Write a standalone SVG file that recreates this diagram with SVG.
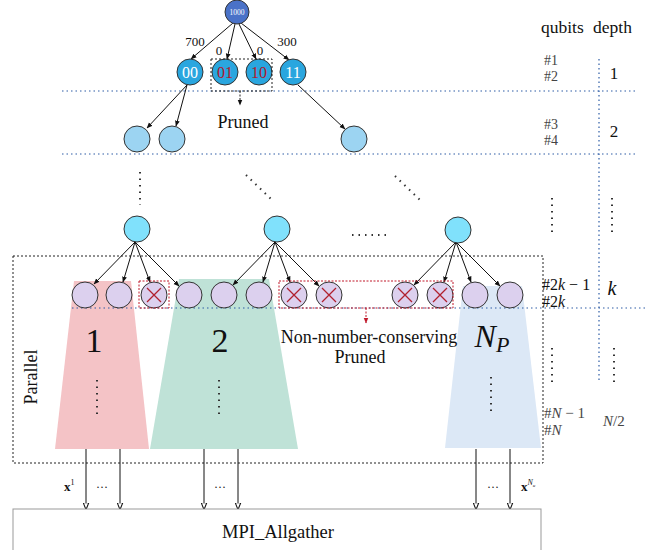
<svg xmlns="http://www.w3.org/2000/svg" width="660" height="550" viewBox="0 0 660 550">
<defs>
<marker id="ah" viewBox="0 0 10 10" refX="9" refY="5" markerWidth="6" markerHeight="6" markerUnits="userSpaceOnUse" orient="auto"><path d="M0,1 L10,5 L0,9 Z" fill="#111"/></marker>
<marker id="ahr" viewBox="0 0 10 10" refX="9" refY="5" markerWidth="6" markerHeight="6" markerUnits="userSpaceOnUse" orient="auto"><path d="M0,1 L10,5 L0,9 Z" fill="#C0182A"/></marker>
<marker id="ahb" viewBox="0 0 10 10" refX="9" refY="5" markerWidth="7" markerHeight="7" markerUnits="userSpaceOnUse" orient="auto"><path d="M0,1 L10,5 L0,9 Z" fill="#fff" stroke="#111" stroke-width="1.5"/></marker>
</defs>
<style>
text{font-family:"Liberation Serif","DejaVu Serif",serif;fill:#111}
.n{stroke:#333;stroke-width:1}
.root{fill:#4A72C8}
.l1{fill:#2AA6DF}
.l2{fill:#9CD4F2}
.l3{fill:#80E1FC}
.lf{fill:#DCD0EE}
.x{stroke:#B0202E;stroke-width:1.3}
.a{stroke:#111;stroke-width:1;fill:none;marker-end:url(#ah)}
.ab{stroke:#111;stroke-width:1;fill:none;marker-end:url(#ahb)}
.bl{stroke:#2E5DA6;stroke-width:1.2;stroke-dasharray:1.5 3;fill:none}
.dk{stroke:#333;stroke-width:2;stroke-dasharray:1.5 5;fill:none}
.bx{stroke:#222;stroke-width:1;stroke-dasharray:2 2;fill:none}
.rb{stroke:#C0182A;stroke-width:1;stroke-dasharray:2 1.5;fill:none}
.lbl{font-size:13px}
.sm{font-size:14px;fill:#444}
</style>

<!-- trapezoids -->
<g id="proc1"><polygon points="74,281 131,281 149,449 55,449" fill="#F4C3C6"/><text x="94" y="352" font-size="34" text-anchor="middle">1</text><line x1="97" y1="380" x2="97" y2="414" class="dk" stroke-width="1.8"/></g>
<g id="proc2"><polygon points="179,279 269,279 298,449 150,449" fill="#BFE2D7"/><text x="220" y="352" font-size="34" text-anchor="middle">2</text><line x1="219" y1="380" x2="219" y2="414" class="dk" stroke-width="1.8"/></g>
<g id="procNP"><polygon points="463,286 522,286 541,448 445,448" fill="#DCE8F6"/><text x="492" y="347" font-size="32" text-anchor="middle"><tspan font-style="italic">N</tspan><tspan font-size="22" font-style="italic" dy="5">P</tspan></text><line x1="491" y1="377" x2="491" y2="411" class="dk" stroke-width="1.8"/></g>

<!-- level separators -->
<g id="separators">
<line x1="62" y1="91" x2="637" y2="91" class="bl"/>
<line x1="62" y1="154" x2="637" y2="154" class="bl"/>
<line x1="72" y1="308" x2="645" y2="308" class="bl"/>
<line x1="599" y1="59" x2="599" y2="380" class="bl"/>
</g>

<!-- parallel box -->
<g id="parallel">
<rect x="13" y="256" width="530" height="207" class="bx"/>
<text transform="translate(37,377) rotate(-90)" font-size="18" text-anchor="middle">Parallel</text>
</g>

<!-- connectors -->
<g id="connectors">
<line x1="233" y1="23" x2="191" y2="59" class="a"/>
<line x1="235" y1="24" x2="227" y2="59" class="a"/>
<line x1="239" y1="24" x2="256" y2="59" class="a"/>
<line x1="241" y1="23" x2="289" y2="60" class="a"/>
<line x1="187" y1="85" x2="147" y2="128" class="a"/>
<line x1="187" y1="85" x2="176" y2="126" class="a"/>
<line x1="298" y1="85" x2="345" y2="129" class="a"/>
<line x1="135" y1="242" x2="94" y2="284" class="a"/>
<line x1="135" y1="242" x2="123" y2="282" class="a"/>
<line x1="135" y1="242" x2="150" y2="282" class="a"/>
<line x1="135" y1="242" x2="179" y2="286" class="a"/>
<line x1="275" y1="242" x2="233" y2="285" class="a"/>
<line x1="275" y1="242" x2="263" y2="282" class="a"/>
<line x1="275" y1="242" x2="290" y2="282" class="a"/>
<line x1="275" y1="242" x2="319" y2="286" class="a"/>
<line x1="456" y1="242" x2="414" y2="285" class="a"/>
<line x1="456" y1="242" x2="444" y2="282" class="a"/>
<line x1="456" y1="242" x2="471" y2="282" class="a"/>
<line x1="456" y1="242" x2="500" y2="286" class="a"/>
<line x1="86" y1="449" x2="86" y2="509" class="ab"/>
<line x1="120" y1="449" x2="120" y2="509" class="ab"/>
<line x1="204" y1="449" x2="204" y2="509" class="ab"/>
<line x1="238" y1="449" x2="238" y2="509" class="ab"/>
<line x1="476" y1="449" x2="476" y2="509" class="ab"/>
<line x1="510" y1="449" x2="510" y2="509" class="ab"/>
</g>

<!-- edge labels -->
<g id="edge-labels" class="lbl">
<text x="195" y="46" text-anchor="middle">700</text>
<text x="219" y="55" text-anchor="middle">0</text>
<text x="260" y="55" text-anchor="middle">0</text>
<text x="287" y="46" text-anchor="middle">300</text>
</g>

<!-- nodes -->
<g id="root"><circle cx="237" cy="12" r="12" class="n root"/><text x="237" y="15" font-size="7.5" style="fill:#fff" text-anchor="middle">1000</text></g>
<g id="n00"><circle cx="190" cy="72" r="13" class="n l1"/><text x="190" y="78" font-size="16" style="fill:#fff" text-anchor="middle">00</text></g>
<g id="n01"><circle cx="225" cy="72" r="13" class="n l1"/><text x="225" y="78" font-size="16" style="fill:#B0182E" text-anchor="middle">01</text></g>
<g id="n10"><circle cx="259" cy="72" r="13" class="n l1"/><text x="259" y="78" font-size="16" style="fill:#B0182E" text-anchor="middle">10</text></g>
<g id="n11"><circle cx="293" cy="72" r="13" class="n l1"/><text x="293" y="78" font-size="16" style="fill:#fff" text-anchor="middle">11</text></g>
<g id="pruned1">
<rect x="211" y="59" width="61" height="32" class="bx"/>
<line x1="240" y1="91" x2="240" y2="105" stroke="#222" stroke-width="1" stroke-dasharray="2 1.5" marker-end="url(#ah)"/>
<text x="243" y="128" font-size="18" text-anchor="middle">Pruned</text>
</g>
<g id="l2a"><circle cx="137" cy="139" r="13" class="n l2"/></g>
<g id="l2b"><circle cx="172" cy="139" r="13" class="n l2"/></g>
<g id="l2c"><circle cx="354" cy="139" r="13" class="n l2"/></g>

<g id="ellipsis">
<line x1="140" y1="172" x2="140" y2="205" class="dk"/>
<line x1="246" y1="175" x2="271" y2="199" class="dk"/>
<line x1="395" y1="176" x2="420" y2="200" class="dk"/>
<line x1="352" y1="235" x2="386" y2="235" class="dk"/>
</g>

<g id="l3a"><circle cx="137" cy="229" r="13" class="n l3"/></g>
<g id="l3b"><circle cx="277" cy="229" r="13" class="n l3"/></g>
<g id="l3c"><circle cx="458" cy="230" r="13" class="n l3"/></g>

<g id="leaves">
<circle cx="85" cy="295" r="13" class="n lf"/>
<circle cx="119" cy="295" r="13" class="n lf"/>
<circle cx="154" cy="295" r="13" class="n lf"/><path d="M147,288 L161,302 M161,288 L147,302" class="x"/>
<circle cx="189" cy="295" r="13" class="n lf"/>
<circle cx="224" cy="295" r="13" class="n lf"/>
<circle cx="259" cy="295" r="13" class="n lf"/>
<circle cx="294" cy="295" r="13" class="n lf"/><path d="M287,288 L301,302 M301,288 L287,302" class="x"/>
<circle cx="329" cy="295" r="13" class="n lf"/><path d="M322,288 L336,302 M336,288 L322,302" class="x"/>
<circle cx="405" cy="295" r="13" class="n lf"/><path d="M398,288 L412,302 M412,288 L398,302" class="x"/>
<circle cx="440" cy="295" r="13" class="n lf"/><path d="M433,288 L447,302 M447,288 L433,302" class="x"/>
<circle cx="475" cy="295" r="13" class="n lf"/>
<circle cx="510" cy="295" r="13" class="n lf"/>
</g>

<g id="pruned2">
<rect x="139" y="281" width="30" height="27" class="rb"/>
<rect x="279" y="281" width="174" height="27" class="rb"/>
<line x1="366" y1="308" x2="366" y2="323" stroke="#C0182A" stroke-width="1" stroke-dasharray="2 1.5" marker-end="url(#ahr)"/>
<text x="369" y="343" font-size="18" text-anchor="middle">Non-number-conserving</text>
<text x="360" y="363" font-size="18" text-anchor="middle">Pruned</text>
</g>

<!-- right annotations -->
<g id="annotations">
<text x="541" y="33" font-size="17.5">qubits</text>
<text x="593" y="33" font-size="17.5">depth</text>
<text x="544" y="65" class="sm">#1</text>
<text x="544" y="81" class="sm">#2</text>
<text x="614" y="79" font-size="17" text-anchor="middle">1</text>
<text x="544" y="129" class="sm">#3</text>
<text x="544" y="145" class="sm">#4</text>
<text x="614" y="137" font-size="17" text-anchor="middle">2</text>
<line x1="552" y1="198" x2="552" y2="232" class="dk"/>
<line x1="612" y1="198" x2="612" y2="232" class="dk"/>
<text x="542" y="290" font-size="16">#2<tspan font-style="italic">k</tspan> − 1</text>
<text x="542" y="307" font-size="16">#2<tspan font-style="italic">k</tspan></text>
<text x="612" y="295" font-size="20" font-style="italic" text-anchor="middle">k</text>
<line x1="552" y1="348" x2="552" y2="382" class="dk"/>
<line x1="614" y1="348" x2="614" y2="382" class="dk"/>
<text x="544" y="418" font-size="15" style="fill:#444">#<tspan font-style="italic">N</tspan> − 1</text>
<text x="544" y="435" font-size="15" style="fill:#444">#<tspan font-style="italic">N</tspan></text>
<text x="603" y="426" font-size="15" style="fill:#444"><tspan font-style="italic">N</tspan>/2</text>
</g>

<!-- outputs -->
<g id="outputs">
<text x="64" y="491" font-size="13" font-weight="bold">x<tspan font-size="8" font-weight="normal" dy="-6">1</tspan></text>
<text x="102" y="491" font-size="12" text-anchor="middle">···</text>
<text x="220" y="491" font-size="12" text-anchor="middle">···</text>
<text x="493" y="491" font-size="12" text-anchor="middle">···</text>
<text x="521" y="491" font-size="13" font-weight="bold">x<tspan font-size="8" font-weight="normal" font-style="italic" dy="-6">N</tspan><tspan font-size="5" font-style="italic" font-weight="normal" dy="2">u</tspan></text>
</g>

<g id="mpi">
<rect x="13" y="509" width="528" height="50" fill="#fff" stroke="#999" stroke-width="1"/>
<text x="278" y="538" font-size="18.5" text-anchor="middle">MPI_Allgather</text>
</g>
</svg>
